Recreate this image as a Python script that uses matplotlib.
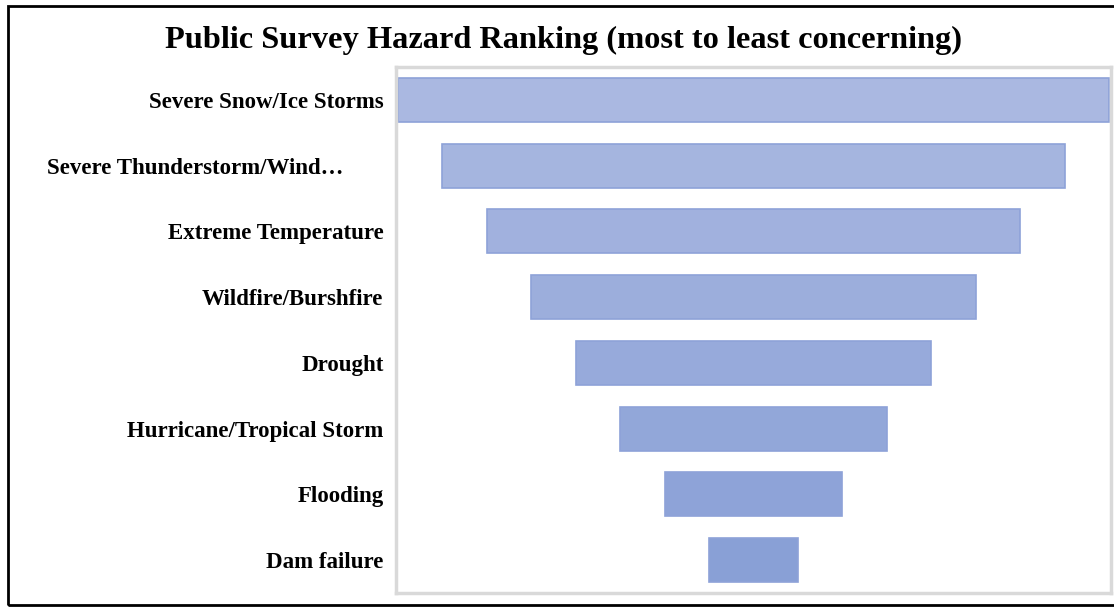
import matplotlib.pyplot as plt
import matplotlib.patches as mpatches
import numpy as np

# hazards ranked from most to least concerning
hazards = [
    "Severe Snow/Ice Storms",
    "Severe Thunderstorm/Wind\u2026       ",
    "Extreme Temperature",
    "Wildfire/Burshfire",
    "Drought",
    "Hurricane/Tropical Storm",
    "Flooding",
    "Dam failure",
]
scores = [8, 7, 6, 5, 4, 3, 2, 1]

plt.rcParams['font.family'] = ['Liberation Serif', 'DejaVu Serif']

fig = plt.figure(figsize=(11.14, 6.07), dpi=100)
ax = fig.add_axes([396 / 1114, 1 - 593 / 607, 715 / 1114, 526 / 607])

# bar shades go from light at the top to a deeper blue at the bottom
top_rgb = np.array([170, 184, 225]) / 255
bot_rgb = np.array([137, 160, 214]) / 255
shades = [tuple(top_rgb + (bot_rgb - top_rgb) * i / (len(scores) - 1)) for i in range(len(scores))]

y = np.arange(len(hazards))
widths = np.array(scores, dtype=float)
ax.barh(y, widths, left=-widths / 2, height=0.67, color=shades,
        edgecolor="#8EA2D8", linewidth=1.2)

ax.set_xlim(-4.02, 4.02)
ax.set_ylim(len(hazards) - 0.5, -0.5)
ax.set_yticks(y)
ax.set_yticklabels(hazards, fontsize=16.5, fontweight="bold")
ax.tick_params(axis="y", length=0, pad=9)
ax.set_xticks([])

for s in ax.spines.values():
    s.set_color("#D9D9D9")
    s.set_linewidth(2.5)

fig.text(564 / 1114, 1 - 40 / 607, "Public Survey Hazard Ranking (most to least concerning)",
         ha="center", va="center", fontsize=23.3, fontweight="bold")

# black outline around the whole chart
fig.patches.append(mpatches.Rectangle((8 / 1114, 1 - 605 / 607), 1.2, 599 / 607,
                                      transform=fig.transFigure, fill=False,
                                      edgecolor="black", linewidth=2.0))

fig.savefig("out.png", dpi=100, facecolor="white")
